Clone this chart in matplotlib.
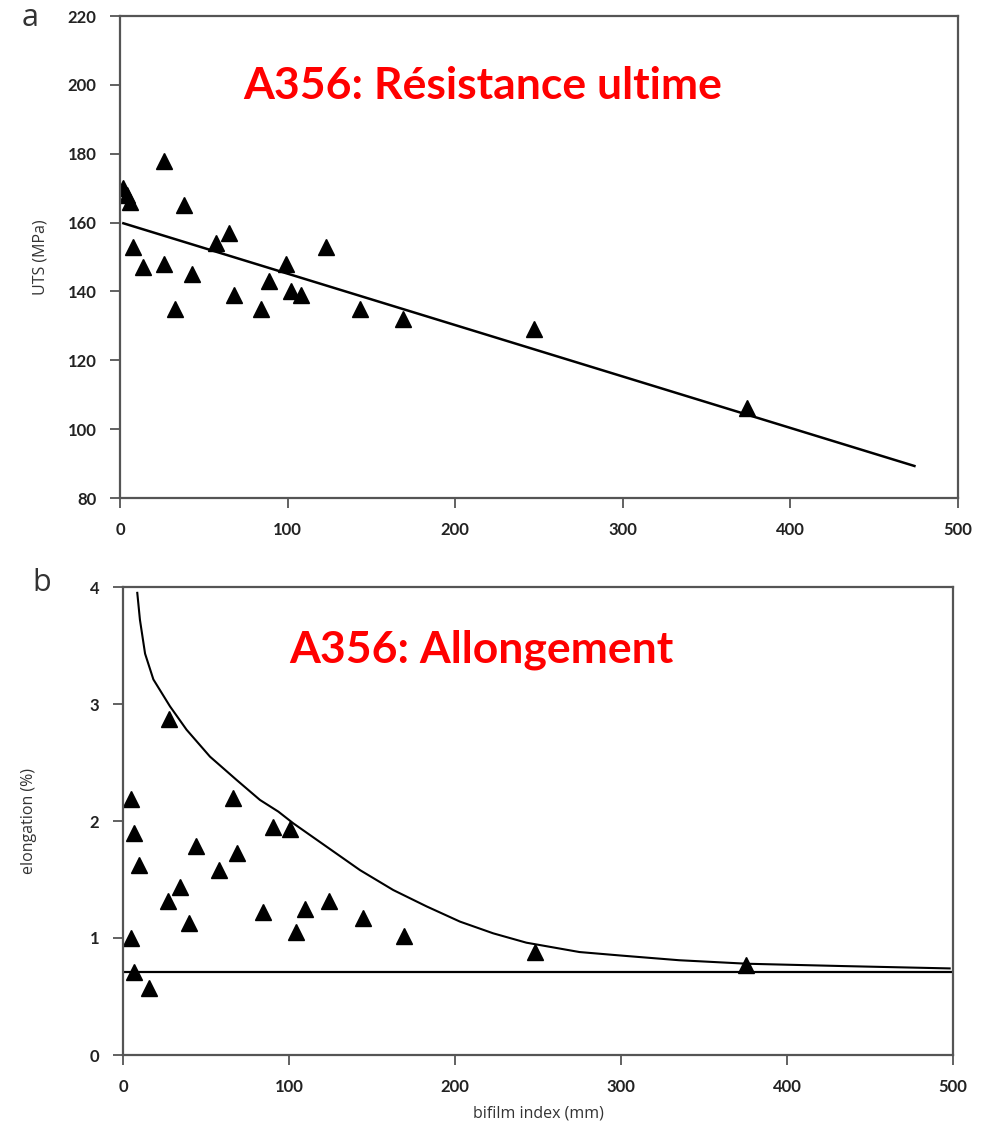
import matplotlib
matplotlib.use("Agg")
import matplotlib.pyplot as plt
import numpy as np

# ---- data: panel a (UTS) ----
uts_x = [2, 4, 6, 8, 14, 26, 26, 33, 38, 43, 57, 65, 68, 84, 89, 99, 102, 108, 123, 143, 169, 247, 374]
uts_y = [170, 168, 166, 153, 147, 178, 148, 135, 165, 145, 154, 157, 139, 135, 143, 148, 140, 139, 153, 135, 132, 129, 106]
uts_fit_x = [2, 474]
uts_fit_y = [159.8, 89.3]

# ---- data: panel b (elongation) ----
el_x = [4.6, 6.8, 9.6, 4.6, 6.8, 15.8, 27.9, 27.3, 34.3, 40, 44, 57.8, 66, 68.9, 84.5, 90.5,
        100.6, 104.2, 109.6, 124.3, 144.8, 169.5, 248, 375]
el_y = [2.19, 1.90, 1.62, 1.00, 0.71, 0.57, 2.87, 1.32, 1.44, 1.13, 1.79, 1.58, 2.20, 1.73, 1.22, 1.95,
        1.93, 1.05, 1.25, 1.32, 1.17, 1.02, 0.88, 0.77]
env_x = [8.6, 10.2, 13.3, 18.3, 28.3, 38.3, 52.4, 68.5, 82.5, 93.6, 102.6, 122.7, 142.8, 162.8,
         182.9, 203, 223, 243, 275, 300, 335, 376, 434, 498]
env_y = [3.95, 3.72, 3.43, 3.21, 2.98, 2.78, 2.55, 2.35, 2.18, 2.08, 1.98, 1.78, 1.58, 1.41,
         1.27, 1.14, 1.04, 0.96, 0.88, 0.85, 0.81, 0.78, 0.76, 0.74]
base_x = [0, 500]
base_y = [0.71, 0.71]

x_ticks = [0, 100, 200, 300, 400, 500]
uts_ticks = [80, 100, 120, 140, 160, 180, 200, 220]
el_ticks = [0, 1, 2, 3, 4]

W, H = 988, 1138
fig = plt.figure(figsize=(W / 100, H / 100), dpi=100)
fig.patch.set_facecolor("white")

tick_font = dict(family=["Lato", "DejaVu Sans"], size=12, weight="bold")
spine_col = "#555555"


def style(ax):
    for s in ax.spines.values():
        s.set_color(spine_col)
        s.set_linewidth(1.6)
    ax.tick_params(direction="out", length=7, width=1.3, color=spine_col, pad=10)
    for lab in ax.get_xticklabels() + ax.get_yticklabels():
        lab.set_fontproperties(matplotlib.font_manager.FontProperties(**tick_font))
        lab.set_color("#222222")


# Panel a
ax1 = fig.add_axes([120 / W, 1 - 498 / H, (958 - 120) / W, (498 - 16) / H])
ax1.plot(uts_fit_x, uts_fit_y, color="black", lw=1.8)
ax1.plot(uts_x, uts_y, linestyle="none", marker="^", color="black", ms=11)
ax1.set_xlim(0, 500)
ax1.set_ylim(80, 220)
ax1.set_xticks(x_ticks)
ax1.set_yticks(uts_ticks)
style(ax1)
ax1.set_ylabel("UTS (MPa)", family=["Open Sans", "DejaVu Sans"], fontsize=11.5, color="#333333", labelpad=14)

# Panel b
ax2 = fig.add_axes([123 / W, 1 - 1055 / H, (953 - 123) / W, (1055 - 587) / H])
ax2.plot(base_x, base_y, color="black", lw=1.6)
ax2.plot(env_x, env_y, color="black", lw=1.5)
ax2.plot(el_x, el_y, linestyle="none", marker="^", color="black", ms=11)
ax2.set_xlim(0, 500)
ax2.set_ylim(0, 4)
ax2.set_xticks(x_ticks)
ax2.set_yticks(el_ticks)
style(ax2)
ax2.set_ylabel("elongation (%)", family=["Open Sans", "DejaVu Sans"], fontsize=11.5, color="#333333", labelpad=38)
ax2.set_xlabel("bifilm index (mm)", family=["Open Sans", "DejaVu Sans"], fontsize=11.5, color="#333333", labelpad=8)

# Panel letters
fig.text(30 / W, 1 - 18 / H, "a", fontsize=22, family=["Open Sans", "DejaVu Sans"], color="#333333",
         ha="center", va="center")
fig.text(42 / W, 1 - 583 / H, "b", fontsize=22, family=["Open Sans", "DejaVu Sans"], color="#333333",
         ha="center", va="center")

# Red titles
fig.text(483 / W, 1 - 86 / H, "A356: Résistance ultime", fontsize=32, weight="bold", color="#ff0000",
         family=["Lato", "DejaVu Sans"], ha="center", va="center")
fig.text(481 / W, 1 - 650 / H, "A356: Allongement", fontsize=32, weight="bold", color="#ff0000",
         family=["Lato", "DejaVu Sans"], ha="center", va="center")

fig.savefig("out.png", dpi=100, facecolor="white")
